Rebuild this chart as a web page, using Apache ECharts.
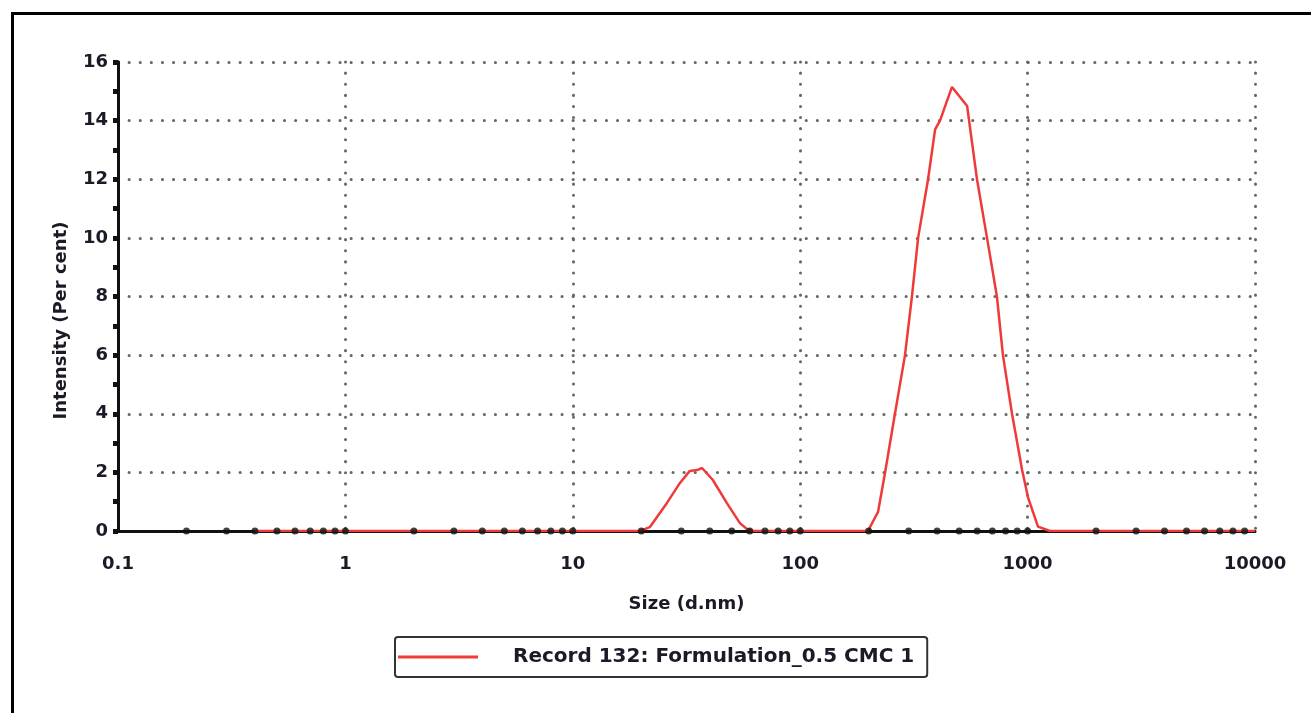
<!DOCTYPE html>
<html>
<head>
<meta charset="utf-8">
<script src="https://cdn.jsdelivr.net/npm/echarts@6/dist/echarts.min.js"></script>
<style>
  html, body { margin: 0; padding: 0; background: #fff; }
  #chart { width: 1311px; height: 713px; }
</style>
</head>
<body>
<div id="chart"></div>
<script>
// size distribution by intensity (d.nm, %)
const sizes = [0.4, 19.75, 21.8, 25.9, 29.6, 32.7, 35.2, 37.0, 41.3, 47.6, 54.3, 58.3, 62,
  198.6, 219.9, 236, 261, 289, 310, 330, 365, 392, 412, 465, 542, 599, 663, 733, 779, 854, 945, 1004, 1111, 1254, 10000];
const intensity = [0, 0, 0.13, 0.95, 1.64, 2.05, 2.08, 2.15, 1.74, 0.95, 0.27, 0.07, 0,
  0, 0.65, 1.98, 4.0, 6.0, 8.0, 10.0, 12.0, 13.7, 14.0, 15.15, 14.5, 12.0, 10.0, 8.0, 6.0, 4.0, 2.1, 1.15, 0.15, 0, 0];
const seriesName = 'Record 132: Formulation_0.5 CMC 1';

// dots drawn along the x axis (log minor ticks)
const xTickDots = [0.2, 0.3, 0.4, 0.5, 0.6, 0.7, 0.8, 0.9, 1,
  2, 3, 4, 5, 6, 7, 8, 9, 10,
  20, 30, 40, 50, 60, 70, 80, 90, 100,
  200, 300, 400, 500, 600, 700, 800, 900, 1000,
  2000, 3000, 4000, 5000, 6000, 7000, 8000, 9000];

const font = 'DejaVu Sans';
const ink = '#1b1b28';

const mychart = echarts.init(document.getElementById('chart'));
const option = {
  backgroundColor: '#fff',
  animation: false,
  graphic: [{
    type: 'rect',
    left: 10, top: 11,
    shape: { width: 1400, height: 800 },
    style: { fill: 'none', stroke: '#000', lineWidth: 3 },
    silent: true
  }],
  grid: { left: 118, right: 56, top: 62, bottom: 182 },
  legend: {
    data: [seriesName],
    left: 395, top: 637,
    padding: [10, 13, 10, 3],
    icon: 'rect',
    itemWidth: 80, itemHeight: 3,
    borderColor: '#333', borderWidth: 2, borderRadius: 3,
    textStyle: { fontFamily: font, fontSize: 20, fontWeight: 'bold', color: ink, padding: [0, 0, 0, 30] }
  },
  xAxis: {
    type: 'log', logBase: 10, min: 0.1, max: 10000,
    name: 'Size (d.nm)', nameLocation: 'middle', nameGap: 64,
    nameTextStyle: { fontFamily: font, fontSize: 18, fontWeight: 'bold', color: ink },
    axisLine: { lineStyle: { color: '#111', width: 3 } },
    axisTick: { show: false },
    axisLabel: { margin: 24, fontFamily: font, fontSize: 18, fontWeight: 'bold', color: ink,
      formatter: v => String(v) },
    splitLine: { show: true, lineStyle: { color: '#666', width: 3, type: [0.1, 11], cap: 'round' } }
  },
  yAxis: {
    type: 'value', min: 0, max: 16, interval: 2,
    name: 'Intensity (Per cent)', nameLocation: 'middle', nameGap: 48, nameRotate: 90,
    nameTextStyle: { fontFamily: font, fontSize: 18, fontWeight: 'bold', color: ink, padding: [0, 48, 0, 0] },
    axisLine: { show: true, lineStyle: { color: '#111', width: 3 } },
    axisTick: { show: true, length: 5, lineStyle: { color: '#111', width: 5 } },
    minorTick: { show: true, splitNumber: 2, length: 5, lineStyle: { color: '#111', width: 5 } },
    axisLabel: { margin: 10, fontFamily: font, fontSize: 18, fontWeight: 'bold', color: ink },
    splitLine: { show: true, lineStyle: { color: '#666', width: 3, type: [0.1, 11], cap: 'round' } }
  },
  series: [
    {
      name: seriesName,
      type: 'line',
      symbol: 'none',
      z: 3,
      lineStyle: { color: '#f03a3a', width: 2.5 },
      itemStyle: { color: '#f03a3a' },
      data: sizes.map((s, i) => [s, intensity[i]])
    },
    {
      name: 'ticks',
      type: 'scatter',
      silent: true,
      z: 4,
      symbolSize: 7,
      itemStyle: { color: '#111' },
      data: xTickDots.map(v => [v, 0])
    }
  ]
};
mychart.setOption(option);
</script>
</body>
</html>
